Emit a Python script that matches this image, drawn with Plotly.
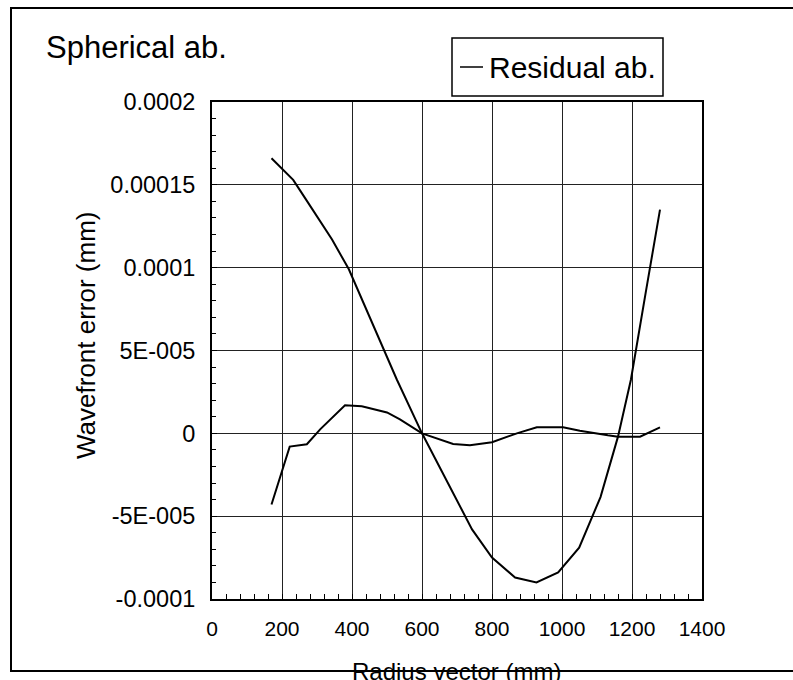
import plotly.graph_objects as go

# ---- data ----
spherical_r = [170, 200, 232, 266, 343, 391, 428, 528, 600, 680, 743, 800, 866, 927, 989, 1049, 1110, 1160, 1197, 1240, 1280]
spherical_v = [1.66e-4, 1.60e-4, 1.53e-4, 1.42e-4, 1.17e-4, 0.99e-4, 0.81e-4, 3.25e-5, 0.0, -3.2e-5, -5.8e-5,
               -7.5e-5, -8.7e-5, -9.0e-5, -8.4e-5, -6.9e-5, -3.85e-5, -0.2e-5, 3.25e-5, 8.6e-5, 1.35e-4]

residual_r = [170, 222, 271, 309, 380, 428, 500, 537, 600, 689, 737, 800, 871, 928, 1003, 1051, 1131, 1160, 1223, 1280]
residual_v = [-4.3e-5, -0.8e-5, -0.66e-5, 0.24e-5, 1.69e-5, 1.63e-5, 1.26e-5, 0.84e-5, 0.0, -0.64e-5, -0.72e-5,
              -0.54e-5, 0.0, 0.36e-5, 0.36e-5, 0.15e-5, -0.12e-5, -0.2e-5, -0.2e-5, 0.36e-5]

x_ticks = [0, 200, 400, 600, 800, 1000, 1200, 1400]
y_ticks = [-0.0001, -0.00005, 0, 0.00005, 0.0001, 0.00015, 0.0002]
y_ticktext = ["-0.0001", "-5E-005", "0", "5E-005", "0.0001", "0.00015", "0.0002"]

title_text = "Spherical ab."
legend_text = "Residual ab."
x_title = "Radius vector (mm)"
y_title = "Wavefront error (mm)"

# ---- layout geometry (pixels) ----
W, H = 793, 680
L, R, T, B = 212, 702, 102, 599
FONT = "Liberation Sans, Arial, Helvetica, sans-serif"


def px(x):
    return (x - L) / (R - L)


def py(y):
    return (B - y) / (B - T)


fig = go.Figure()
fig.add_trace(go.Scatter(x=spherical_r, y=spherical_v, mode="lines",
                         line=dict(color="black", width=2), showlegend=False))
fig.add_trace(go.Scatter(x=residual_r, y=residual_v, mode="lines",
                         line=dict(color="black", width=2), showlegend=False))

axis_common = dict(
    showline=True, linecolor="black", linewidth=2, mirror=True,
    showgrid=True, gridcolor="#222", gridwidth=1,
    zeroline=False, ticks="inside", ticklen=5, tickcolor="black",
)

fig.update_xaxes(range=[0, 1400], tickvals=x_ticks, ticklabelstandoff=10,
                 tickfont=dict(family=FONT, size=21, color="black"),
                 minor=dict(dtick=40, ticks="inside", ticklen=5, tickcolor="black", showgrid=False),
                 **axis_common)
fig.update_yaxes(range=[-0.0001, 0.0002], tickvals=y_ticks, ticktext=y_ticktext, ticklabelstandoff=10,
                 tickfont=dict(family=FONT, size=23.5, color="black"),
                 minor=dict(dtick=0.00001, ticks="inside", ticklen=4, tickcolor="black", showgrid=False),
                 **axis_common)

# outer frame: open on the right side (runs off the page)
frame_path = "M {a},{t} L {b},{t} L {b},{bt} L {a},{bt}".format(
    a=px(900), b=px(11), t=py(8), bt=py(671))

shapes = [
    dict(type="path", xref="paper", yref="paper", path=frame_path,
         line=dict(color="black", width=2), fillcolor="rgba(0,0,0,0)"),
    # legend box
    dict(type="rect", xref="paper", yref="paper", x0=px(452), x1=px(663), y0=py(96), y1=py(38),
         line=dict(color="black", width=1.5), fillcolor="white"),
    dict(type="line", xref="paper", yref="paper", x0=px(460), x1=px(483), y0=py(67), y1=py(67),
         line=dict(color="black", width=1.5)),
]

annotations = [
    dict(text=title_text, xref="paper", yref="paper", x=px(44), y=py(48), xanchor="left", yanchor="middle",
         showarrow=False, font=dict(family=FONT, size=31, color="black")),
    dict(text=legend_text, xref="paper", yref="paper", x=px(487), y=py(67), xanchor="left", yanchor="middle",
         showarrow=False, font=dict(family=FONT, size=30, color="black")),
    dict(text=y_title, xref="paper", yref="paper", x=px(86), y=py(335), xanchor="center", yanchor="middle",
         textangle=-90, showarrow=False, font=dict(family=FONT, size=26, color="black")),
    dict(text=x_title, xref="paper", yref="paper", x=px(456), y=py(671), xanchor="center", yanchor="middle",
         showarrow=False, font=dict(family=FONT, size=24, color="black")),
]

fig.update_layout(
    width=W, height=H,
    margin=dict(l=L, r=W - R, t=T, b=H - B, pad=0),
    paper_bgcolor="white", plot_bgcolor="white",
    shapes=shapes, annotations=annotations,
    showlegend=False,
)

fig.write_html(
    "out.html",
    config={"displayModeBar": False},
    post_script="document.body.style.margin='0';document.body.style.overflow='hidden';",
)
